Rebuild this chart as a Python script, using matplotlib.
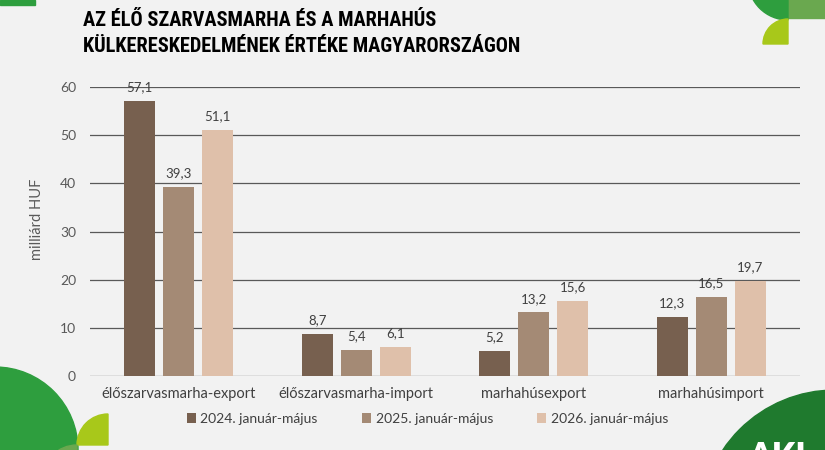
import numpy as np
import matplotlib.pyplot as plt
from matplotlib.patches import Circle, Wedge, Rectangle

categories = ["élőszarvasmarha-export", "élőszarvasmarha-import", "marhahúsexport", "marhahúsimport"]
series_names = ["2024. január-május", "2025. január-május", "2026. január-május"]
values_2024 = [57.1, 8.7, 5.2, 12.3]
values_2025 = [39.3, 5.4, 13.2, 16.5]
values_2026 = [51.1, 6.1, 15.6, 19.7]
yticks = [0, 10, 20, 30, 40, 50, 60]
title_lines = ["AZ ÉLŐ SZARVASMARHA ÉS A MARHAHÚS",
               "KÜLKERESKEDELMÉNEK ÉRTÉKE MAGYARORSZÁGON"]

colors = ["#77604f", "#a48a75", "#dfc0aa"]
bg = "#f2f2f2"
text_col = "#404040"

plt.rcParams['font.family'] = ['Lato', 'DejaVu Sans']

fig = plt.figure(figsize=(8.25, 4.5), dpi=100, facecolor=bg)

# decorations, drawn in pixel coordinates on a full-figure axes
deco = fig.add_axes([0, 0, 1, 1], zorder=0)
deco.set_xlim(0, 825)
deco.set_ylim(450, 0)
deco.axis("off")
deco.add_patch(Rectangle((0, 0), 35, 5, color="#2e9e3e"))
# bottom left
deco.add_patch(Circle((-5, 450), 83, color="#2e9e3e"))
deco.add_patch(Wedge((108, 445), 31, 180, 270, color="#a8c81a"))
deco.add_patch(Wedge((77, 480), 35, 180, 270, color="#6aa84f"))
# bottom right
deco.add_patch(Circle((835, 525), 135, color="#1f7a2e"))
deco.text(748, 441, "AKI", color="white", fontsize=24, fontweight="heavy",
          ha="left", va="top")
# top right
deco.add_patch(Rectangle((788, 0), 40, 18, color="#6aa84f"))
deco.add_patch(Wedge((788, -20), 40, 90, 180, color="#2e9e3e"))
deco.add_patch(Wedge((788, 44), 25, 180, 270, color="#a8c81a"))

ax = fig.add_axes([90 / 825, 1 - 376 / 450, 710 / 825, (376 - 87) / 450], zorder=1)
ax.set_facecolor("none")

x = np.arange(len(categories))
width = 0.175
step = 0.22
all_series = [values_2024, values_2025, values_2026]
for i, (vals, name) in enumerate(zip(all_series, series_names)):
    pos = x + (i - 1) * step
    ax.bar(pos, vals, width, color=colors[i], label=name, zorder=3)
    for p, v in zip(pos, vals):
        ax.text(p, v + 1.6, f"{v:.1f}".replace(".", ","), ha="center", va="bottom",
                fontsize=9.5, color=text_col, clip_on=False)

ax.set_xlim(-0.5, 3.5)
ax.set_ylim(0, 60)
ax.set_yticks(yticks)
ax.yaxis.grid(True, color="#595959", linewidth=0.9, zorder=0)
ax.tick_params(axis="y", length=0, labelsize=10, colors="#595959", pad=10)
ax.tick_params(axis="x", length=0, labelsize=10.5, colors=text_col, pad=8)
ax.set_xticks(x)
ax.set_xticklabels(categories)
for s in ax.spines.values():
    s.set_visible(False)
ax.set_ylabel("milliárd HUF", fontsize=10.5, color="#595959")
ax.yaxis.set_label_coords(-0.065, 0.543)

leg = ax.legend(loc="upper center", bbox_to_anchor=(0.475, -0.085), ncol=3, frameon=False,
                fontsize=10, handlelength=0.7, handleheight=0.7, handletextpad=0.3,
                columnspacing=3.15)
for t in leg.get_texts():
    t.set_color(text_col)

title_font = ["Roboto Condensed", "Lato", "DejaVu Sans"]
t1 = fig.text(83 / 825, 1 - 20 / 450, title_lines[0], fontsize=16, fontweight="heavy",
              color="black", va="center", family=title_font)
t2 = fig.text(83 / 825, 1 - 46 / 450, title_lines[1], fontsize=16, fontweight="heavy",
              color="black", va="center", family=title_font)
# fit title width close to the reference (second line about 365 px wide),
# a bit larger since the original face is narrower
renderer = fig.canvas.get_renderer()
w = t2.get_window_extent(renderer).width
size = 16 * 365 / w * 1.2
t1.set_fontsize(size)
t2.set_fontsize(size)

fig.savefig("out.png", dpi=100, facecolor=bg)
